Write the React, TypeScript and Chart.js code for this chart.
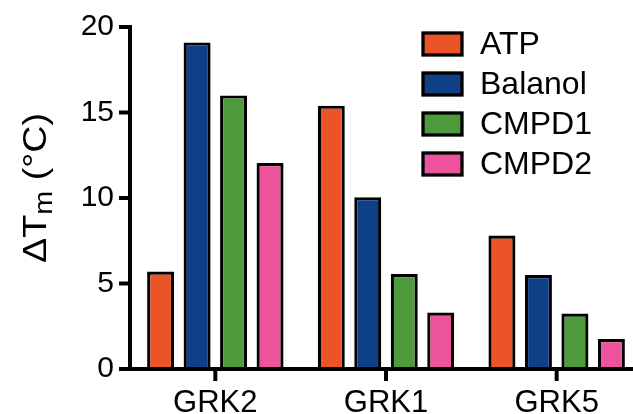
import React, { useEffect, useRef } from "react";
import { Chart, registerables } from "chart.js";

Chart.register(...registerables);

const categories = ["GRK2", "GRK1", "GRK5"];
const seriesNames = ["ATP", "Balanol", "CMPD1", "CMPD2"];
const atpValues = [5.7, 15.4, 7.8];
const balanolValues = [19.1, 10.05, 5.5];
const cmpd1Values = [16.0, 5.55, 3.25];
const cmpd2Values = [12.05, 3.3, 1.75];
const yTicks = [0, 5, 10, 15, 20];
const seriesColors = ["#EB5428", "#0F3F87", "#4E9A3D", "#EC539C"];

const FONT = "'Liberation Sans', Arial, Helvetica, sans-serif";

const axesPlugin = {
  id: "axesDraw",
  afterDatasetsDraw(chart: any) {
    const ctx = chart.ctx as CanvasRenderingContext2D;
    const area = chart.chartArea;
    const xs = chart.scales.x;
    const ys = chart.scales.y;
    ctx.save();
    ctx.strokeStyle = "#000";
    ctx.lineWidth = 4;
    ctx.lineCap = "butt";
    const left = area.left;
    const bottom = area.bottom;
    // y axis line
    ctx.beginPath();
    ctx.moveTo(left, ys.getPixelForValue(yTicks[yTicks.length - 1]) - 2);
    ctx.lineTo(left, bottom + 2);
    ctx.stroke();
    // y tick marks
    yTicks.forEach((v) => {
      const y = ys.getPixelForValue(v);
      ctx.beginPath();
      ctx.moveTo(left - 11, y);
      ctx.lineTo(left, y);
      ctx.stroke();
    });
    // x axis line
    ctx.beginPath();
    ctx.moveTo(left - 11, bottom);
    ctx.lineTo(area.right, bottom);
    ctx.stroke();
    // x tick marks at category centres
    categories.forEach((_, i) => {
      const x = xs.getPixelForValue(i);
      ctx.beginPath();
      ctx.moveTo(x, bottom);
      ctx.lineTo(x, bottom + 12);
      ctx.stroke();
    });
    ctx.restore();
  },
};

const overlayPlugin = {
  id: "overlay",
  afterDraw(chart: any) {
    const ctx = chart.ctx as CanvasRenderingContext2D;
    ctx.save();
    // legend
    const lx = 423, ly = 33, bw = 39, bh = 22, pitch = 40;
    chart.data.datasets.forEach((ds: any, i: number) => {
      const y = ly + i * pitch;
      ctx.fillStyle = ds.backgroundColor;
      ctx.fillRect(lx, y, bw, bh);
      ctx.lineWidth = 3.3;
      ctx.strokeStyle = "#000";
      ctx.strokeRect(lx, y, bw, bh);
      ctx.fillStyle = "#000";
      ctx.font = `32px ${FONT}`;
      ctx.textBaseline = "middle";
      ctx.textAlign = "left";
      ctx.fillText(ds.label, 480, y + bh / 2 + 1);
    });
    // y-axis title with subscript
    const big = `34px ${FONT}`;
    const small = `26px ${FONT}`;
    const p1 = "\u0394T";
    const p2 = "m";
    const p3 = " (\u00B0C)";
    ctx.font = big;
    const w1 = ctx.measureText(p1).width;
    const w3 = ctx.measureText(p3).width;
    ctx.font = small;
    const w2 = ctx.measureText(p2).width;
    const total = w1 + w2 + w3;
    const target = 150;
    const s = target / total;
    ctx.translate(46, 188);
    ctx.rotate(-Math.PI / 2);
    ctx.scale(s, 1);
    ctx.textBaseline = "alphabetic";
    ctx.textAlign = "left";
    ctx.fillStyle = "#000";
    let x = -total / 2;
    ctx.font = big;
    ctx.fillText(p1, x, 0);
    x += w1;
    ctx.font = small;
    ctx.fillText(p2, x, 6);
    x += w2;
    ctx.font = big;
    ctx.fillText(p3, x, 0);
    ctx.restore();
  },
};

export default function App() {
  const ref = useRef<HTMLCanvasElement | null>(null);
  useEffect(() => {
    if (!ref.current) return;
    const seriesValues = [atpValues, balanolValues, cmpd1Values, cmpd2Values];
    const chart = new Chart(ref.current, {
      type: "bar",
      data: {
        labels: categories,
        datasets: seriesNames.map((name, i) => ({
          label: name,
          data: seriesValues[i],
          backgroundColor: seriesColors[i],
          borderColor: "#000",
          borderWidth: 3.2,
          categoryPercentage: 0.855,
          barPercentage: 0.74,
        })),
      },
      options: {
        responsive: false,
        animation: false,
        devicePixelRatio: 1,
        layout: { padding: { top: 27, right: 0, left: 0, bottom: 0 } },
        plugins: { legend: { display: false }, tooltip: { enabled: false } },
        scales: {
          x: {
            type: "category",
            offset: true,
            grid: {
              offset: false,
              drawOnChartArea: false,
              drawTicks: true,
              tickLength: 12,
              tickColor: "rgba(0,0,0,0)",
              color: "rgba(0,0,0,0)",
            },
            border: { display: false },
            ticks: {
              color: "#000",
              font: { size: 31, family: FONT },
              padding: 4,
              maxRotation: 0,
            },
            afterFit: (s: any) => {
              s.height = 45;
            },
          },
          y: {
            min: 0,
            max: 20,
            afterBuildTicks: (s: any) => {
              s.ticks = yTicks.map((v) => ({ value: v }));
            },
            grid: {
              drawOnChartArea: false,
              drawTicks: true,
              tickLength: 11,
              tickColor: "rgba(0,0,0,0)",
              color: "rgba(0,0,0,0)",
            },
            border: { display: false },
            ticks: {
              color: "#000",
              font: { size: 30, family: FONT },
              padding: 5,
            },
            afterFit: (s: any) => {
              s.width = 130;
            },
          },
        },
      },
      plugins: [axesPlugin, overlayPlugin],
    } as any);
    return () => chart.destroy();
  }, []);
  return (
    <div
      style={{
        position: "fixed",
        left: 0,
        top: 0,
        width: 633,
        height: 414,
        overflow: "hidden",
        background: "#fff",
      }}
    >
      <canvas ref={ref} width={642} height={414} style={{ display: "block" }} />
    </div>
  );
}
